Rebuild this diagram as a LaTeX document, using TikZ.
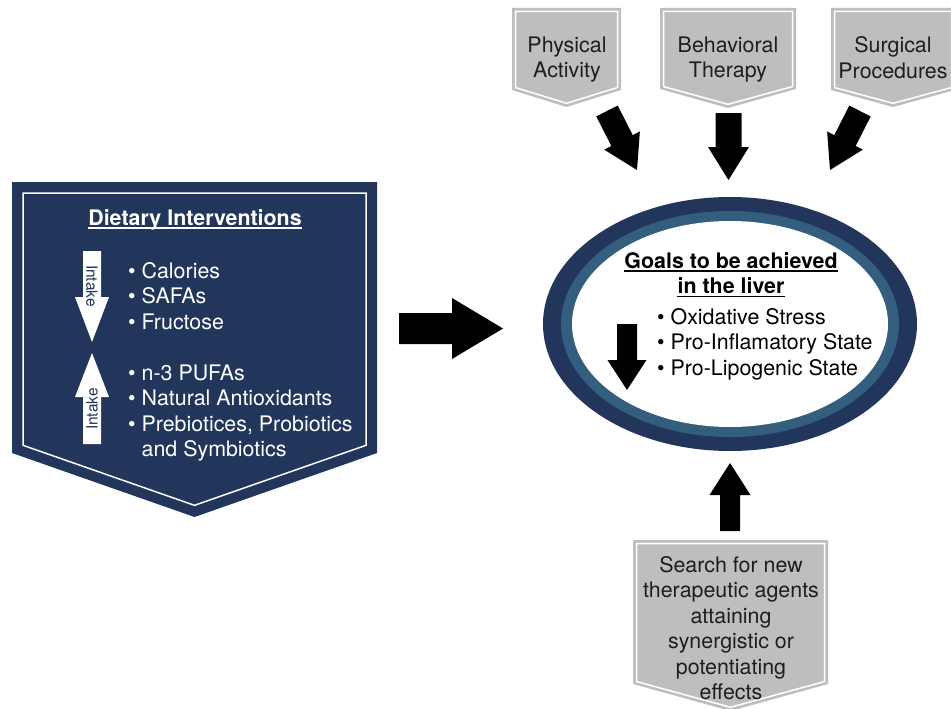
\documentclass[tikz,border=0pt]{standalone}
\usepackage{fontspec}
\setmainfont{TeX Gyre Heros}
\usetikzlibrary{calc}

\definecolor{navy}{RGB}{33,54,90}
\definecolor{steel}{RGB}{52,94,126}
\definecolor{boxgray}{RGB}{190,190,193}
\definecolor{ink}{RGB}{30,30,30}

% block arrow from #2 to #3: shaft half width, head half width, head length
\newcommand{\fatarrow}[6][black]{%
  \coordinate (fa-h) at ($(#3)!#6!(#2)$);
  \fill[#1] ($(#2)!#4!90:(#3)$) -- ($(fa-h)!#4!-90:(#2)$) -- ($(fa-h)!#5!-90:(#2)$) -- (#3)
    -- ($(fa-h)!#5!90:(#2)$) -- ($(fa-h)!#4!90:(#2)$) -- ($(#2)!#4!-90:(#3)$) -- cycle;}

% pointed box: fill, left, right, top, side bottom, tip, inset of the white line
\newcommand{\shield}[7]{%
  \fill[#1] (#2,#4) -- (#3,#4) -- (#3,#5) -- ({(#2+#3)/2},#6) -- (#2,#5) -- cycle;
  \draw[white, line width=1.5pt, line join=miter] (#2+#7,#4+#7) -- (#3-#7,#4+#7) -- (#3-#7,#5-0.7*#7)
    -- ({(#2+#3)/2},#6-1.06*#7) -- (#2+#7,#5-0.7*#7) -- cycle;}

\tikzset{
  words/.style={font=\fontsize{21.4}{25.5}\selectfont, text=ink, inner sep=0pt, align=center, anchor=north},
  item/.style={font=\fontsize{21.4}{25.5}\selectfont, inner sep=0pt, anchor=base west},
  heading/.style={font=\fontsize{21.4}{25.5}\selectfont\bfseries, inner sep=0pt, anchor=base},
  intake/.style={font=\fontsize{15.5}{18}\selectfont, inner sep=0pt, text=navy},
}

\begin{document}
\begin{tikzpicture}[x=1pt, y=-1pt]
\useasboundingbox (0,0) rectangle (951,709);

\coordinate (pa-s) at (607,111);
\coordinate (pa-t) at (637,170);
\coordinate (ba-s) at (728.5,113);
\coordinate (ba-t) at (728.5,180);
\coordinate (sa-s) at (860,111);
\coordinate (sa-t) at (830,170);
\coordinate (da-s) at (399,328.5);
\coordinate (da-t) at (503,328.5);
\coordinate (na-s) at (730,531);
\coordinate (na-t) at (730,463);
\coordinate (la-s) at (627,324);
\coordinate (la-t) at (627,390);
\coordinate (dn-s) at (92,251);
\coordinate (dn-t) at (92,342);
\coordinate (up-s) at (92,444);
\coordinate (up-t) at (92,353);

% diet box and the three therapy boxes
\shield{navy}{12}{377}{182}{453}{517}{11}
\shield{boxgray}{512}{621}{8}{90}{107}{3.5}
\shield{boxgray}{660}{796}{8}{89}{108}{3.5}
\shield{boxgray}{831}{955}{8}{90}{107}{3.5}
\shield{boxgray}{633}{828}{540}{684}{711}{3.5}

% liver goals
\fill[navy] (730,324) ellipse [x radius=187, y radius=127];
\fill[steel] (730,324) ellipse [x radius=169, y radius=113];
\fill[white] (730,324) ellipse [x radius=158, y radius=103];

\fatarrow{pa-s}{pa-t}{12pt}{20pt}{33pt}
\fatarrow{ba-s}{ba-t}{13pt}{20.5pt}{33pt}
\fatarrow{sa-s}{sa-t}{12pt}{20pt}{33pt}
\fatarrow{da-s}{da-t}{15.5pt}{30.5pt}{51pt}
\fatarrow{na-s}{na-t}{10pt}{20.5pt}{32pt}
\fatarrow{la-s}{la-t}{10pt}{19.5pt}{30pt}
\fatarrow[white]{dn-s}{dn-t}{9pt}{17pt}{45pt}
\fatarrow[white]{up-s}{up-t}{9pt}{17pt}{44pt}

\node[intake, rotate=-90] (cut-tag) at (92,286) {Intake};
\node[intake, rotate=90] (add-tag) at (92,409) {Intake};

\node[heading, white] (diet) at (195,225) {Dietary Interventions};
\draw[white, line width=1.5pt] ($(diet.base west)+(0,3)$) -- ($(diet.base east)+(0,3)$);

\foreach \t [count=\i] in {Calories,SAFAs,Fructose}
  \node[item, white] (cut-\i) at (128,{252.5+25.5*\i}) {• \t};
\foreach \t [count=\i] in {n-3 PUFAs,Natural Antioxidants,{Prebiotices, Probiotics}}
  \node[item, white] (add-\i) at (128,{354.5+25.5*\i}) {• \t};
\node[item, white] (add-4) at (128,456) {\phantom{•} and Symbiotics};

\node[heading] (goal-1) at (731,268) {Goals to be achieved};
\node[heading] (goal-2) at (731,293.5) {in the liver};
\draw[line width=1.5pt] ($(goal-1.base west)+(0,3)$) -- ($(goal-1.base east)+(0,3)$);
\draw[line width=1.5pt] ($(goal-2.base west)+(0,3)$) -- ($(goal-2.base east)+(0,3)$);

\foreach \t [count=\i] in {Oxidative Stress,Pro-Inflamatory State,Pro-Lipogenic State}
  \node[item] (goal-item-\i) at (657,{298.5+25.5*\i}) {• \t};

\node[words] (phys) at (567,36.5) {Physical\\Activity};
\node[words] (behav) at (728,36.5) {Behavioral\\Therapy};
\node[words] (surg) at (893,36.5) {Surgical\\Procedures};
\node[words] (search) at (731,556) {Search for new\\therapeutic agents\\attaining\\synergistic or\\potentiating\\effects};
\end{tikzpicture}
\end{document}
